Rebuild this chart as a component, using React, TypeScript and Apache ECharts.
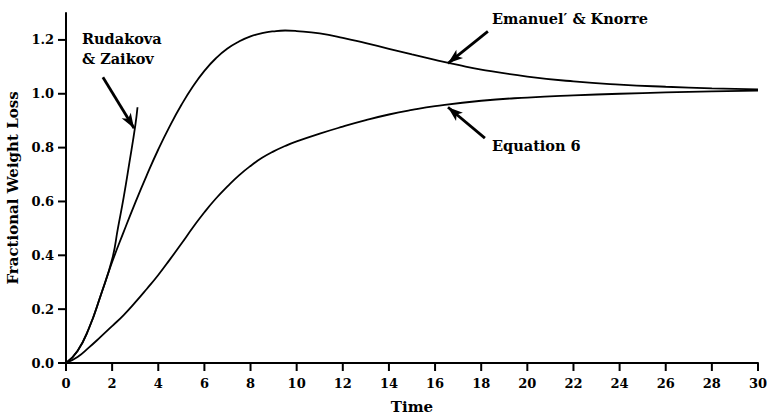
import React, { useEffect, useRef } from "react";
import * as echarts from "echarts";

const xTicks = [0, 2, 4, 6, 8, 10, 12, 14, 16, 18, 20, 22, 24, 26, 28, 30];
const yTicks = [0, 0.2, 0.4, 0.6, 0.8, 1.0, 1.2];

const emanuelT = [0, 0.5, 1, 1.5, 2, 2.5, 3, 3.5, 4, 4.5, 5, 5.5, 6, 6.5, 7, 7.5, 8, 8.5, 9, 9.5, 10, 11, 12, 13, 14, 15, 16, 17, 18, 20, 22, 24, 26, 28, 30];
const emanuelV = [0, 0.045, 0.13, 0.25, 0.375, 0.487, 0.595, 0.697, 0.793, 0.88, 0.958, 1.027, 1.085, 1.132, 1.168, 1.194, 1.213, 1.225, 1.232, 1.235, 1.233, 1.224, 1.208, 1.188, 1.167, 1.146, 1.126, 1.107, 1.09, 1.064, 1.046, 1.034, 1.026, 1.02, 1.016];

const rudakovaT = [0, 0.5, 1, 1.5, 2, 2.25, 2.5, 2.75, 3, 3.1];
const rudakovaV = [0, 0.045, 0.13, 0.25, 0.385, 0.5, 0.615, 0.745, 0.88, 0.95];

const eq6T = [0, 0.5, 1, 1.5, 2, 2.5, 3, 3.5, 4, 4.5, 5, 5.5, 6, 6.5, 7, 7.5, 8, 8.5, 9, 9.5, 10, 11, 12, 13, 14, 15, 16, 18, 20, 22, 24, 26, 28, 30];
const eq6V = [0, 0.022, 0.058, 0.097, 0.137, 0.178, 0.225, 0.275, 0.327, 0.384, 0.443, 0.503, 0.56, 0.611, 0.656, 0.697, 0.732, 0.762, 0.786, 0.806, 0.823, 0.852, 0.878, 0.902, 0.923, 0.94, 0.954, 0.974, 0.986, 0.994, 1.0, 1.005, 1.009, 1.012];

// annotation arrows: [fromT, fromV, toT, toV]
const rudakovaArrow = [1.6, 1.061, 2.95, 0.872];
const emanuelArrow = [18.29, 1.232, 16.56, 1.113];
const eq6Arrow = [18.16, 0.835, 16.56, 0.95];

const FONT = "DejaVu Serif";
const TICK_LEN = 8;

function pairs(t: number[], v: number[]) {
  return t.map((x, i) => [x, v[i]]);
}

function arrow(a: number[]) {
  return {
    silent: true,
    animation: false,
    symbol: ["none", "arrow"],
    label: { show: false },
    lineStyle: { color: "#000", width: 2.8, type: "solid" },
    emphasis: { disabled: true },
    data: [
      [
        { coord: [a[0], a[1]], symbol: "none" },
        { coord: [a[2], a[3]], symbol: "arrow", symbolSize: [8, 15] },
      ],
    ],
  };
}

function lineSeries(name: string, t: number[], v: number[], a: number[]) {
  return {
    name,
    type: "line",
    data: pairs(t, v),
    smooth: 0.5,
    showSymbol: false,
    symbol: "none",
    lineStyle: { color: "#000", width: 1.8 },
    markLine: arrow(a),
  };
}

function tickSeries(kind: "x" | "y", values: number[]) {
  return {
    type: "custom",
    silent: true,
    clip: false,
    z: 10,
    data: values.map((v) => (kind === "x" ? [v, 0] : [0, v])),
    renderItem: (_params: any, api: any) => {
      const p = api.coord([api.value(0), api.value(1)]);
      const points =
        kind === "x"
          ? [
              [p[0] - 1, p[1]],
              [p[0] + 1, p[1]],
              [p[0] + 1, p[1] + TICK_LEN],
              [p[0] - 1, p[1] + TICK_LEN],
            ]
          : [
              [p[0], p[1] - 1],
              [p[0], p[1] + 1],
              [p[0] - TICK_LEN, p[1] + 1],
              [p[0] - TICK_LEN, p[1] - 1],
            ];
      return { type: "polygon", shape: { points }, style: { fill: "#000" } };
    },
  };
}

export default function App() {
  const ref = useRef<HTMLDivElement>(null);
  useEffect(() => {
    const chart = echarts.init(ref.current!, null, { renderer: "svg" });
    const textStyle = { fontFamily: FONT, fontWeight: "bold", fontSize: 14.5, fill: "#000" };
    chart.setOption({
      animation: false,
      backgroundColor: "#fff",
      grid: { left: 66, right: 9, top: 13, bottom: 51, containLabel: false, outerBoundsMode: "none" },
      xAxis: {
        type: "value",
        min: 0,
        max: 30,
        interval: 2,
        name: "Time",
        nameLocation: "middle",
        nameGap: 36,
        nameTextStyle: { fontFamily: FONT, fontWeight: "bold", fontSize: 15, color: "#000" },
        axisLine: { show: true, onZero: false, lineStyle: { color: "#000", width: 2 } },
        axisTick: { show: false },
        axisLabel: { fontFamily: FONT, fontWeight: "bold", fontSize: 13, color: "#000", margin: 14 },
        splitLine: { show: false },
      },
      yAxis: {
        type: "value",
        min: 0,
        max: 1.3,
        interval: 0.2,
        name: "Fractional Weight Loss",
        nameLocation: "middle",
        nameGap: 42,
        nameTextStyle: { fontFamily: FONT, fontWeight: "bold", fontSize: 15, color: "#000" },
        axisLine: { show: true, onZero: false, lineStyle: { color: "#000", width: 2 } },
        axisTick: { show: false },
        axisLabel: {
          fontFamily: FONT,
          fontWeight: "bold",
          fontSize: 13,
          color: "#000",
          margin: 12,
          showMaxLabel: false,
          formatter: (v: number) => v.toFixed(1),
        },
        splitLine: { show: false },
      },
      series: [
        lineSeries("Emanuel' & Knorre", emanuelT, emanuelV, emanuelArrow),
        lineSeries("Rudakova & Zaikov", rudakovaT, rudakovaV, rudakovaArrow),
        lineSeries("Equation 6", eq6T, eq6V, eq6Arrow),
        tickSeries("x", xTicks),
        tickSeries("y", yTicks),
      ],
      graphic: [
        { type: "text", left: 82, top: 31, style: { ...textStyle, text: "Rudakova" } },
        { type: "text", left: 82, top: 51, style: { ...textStyle, text: "& Zaikov" } },
        { type: "text", left: 492, top: 11, style: { ...textStyle, text: "Emanuel\u2032 & Knorre" } },
        { type: "text", left: 492, top: 138, style: { ...textStyle, text: "Equation 6" } },
      ],
    });
    return () => chart.dispose();
  }, []);
  return <div ref={ref} style={{ width: 767, height: 414, position: "absolute", left: 0, top: 0 }} />;
}
